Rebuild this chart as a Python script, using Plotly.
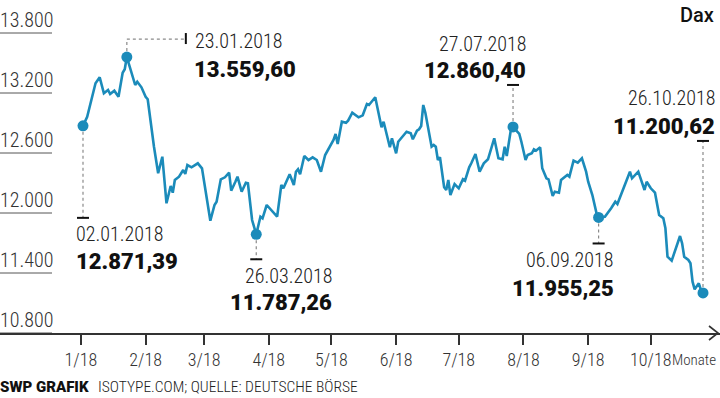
import plotly.graph_objects as go
import pandas as pd

# ---------------- data ----------------
dates = [
    "2018-01-02", "2018-01-04", "2018-01-08", "2018-01-10", "2018-01-12", "2018-01-14",
    "2018-01-15", "2018-01-17", "2018-01-19", "2018-01-21", "2018-01-22", "2018-01-23",
    "2018-01-27", "2018-01-28", "2018-01-30", "2018-02-01", "2018-02-02", "2018-02-04",
    "2018-02-05", "2018-02-07", "2018-02-09", "2018-02-11", "2018-02-13", "2018-02-14",
    "2018-02-15", "2018-02-17", "2018-02-19", "2018-02-20", "2018-02-21", "2018-02-23",
    "2018-02-25", "2018-02-26", "2018-02-28", "2018-03-04", "2018-03-06", "2018-03-07",
    "2018-03-09", "2018-03-11", "2018-03-13", "2018-03-14", "2018-03-16", "2018-03-17",
    "2018-03-19", "2018-03-21", "2018-03-22", "2018-03-24", "2018-03-26", "2018-03-28",
    "2018-03-29", "2018-03-31", "2018-04-05", "2018-04-07", "2018-04-08", "2018-04-11",
    "2018-04-13", "2018-04-14", "2018-04-15", "2018-04-16", "2018-04-18", "2018-04-20",
    "2018-04-22", "2018-04-24", "2018-04-26", "2018-04-28", "2018-05-02", "2018-05-03",
    "2018-05-04", "2018-05-06", "2018-05-08", "2018-05-09", "2018-05-11", "2018-05-14",
    "2018-05-16", "2018-05-18", "2018-05-19", "2018-05-22", "2018-05-25", "2018-05-26",
    "2018-05-29", "2018-05-30", "2018-06-01", "2018-06-02", "2018-06-06", "2018-06-08",
    "2018-06-09", "2018-06-11", "2018-06-12", "2018-06-13", "2018-06-14", "2018-06-15",
    "2018-06-18", "2018-06-19", "2018-06-20", "2018-06-21", "2018-06-22", "2018-06-24",
    "2018-06-25", "2018-06-26", "2018-06-27", "2018-06-29", "2018-07-01", "2018-07-03",
    "2018-07-04", "2018-07-06", "2018-07-07", "2018-07-09", "2018-07-11", "2018-07-13",
    "2018-07-15", "2018-07-18", "2018-07-20", "2018-07-22", "2018-07-23", "2018-07-24",
    "2018-07-26", "2018-07-27", "2018-07-30", "2018-07-31", "2018-08-02", "2018-08-03",
    "2018-08-05", "2018-08-06", "2018-08-07", "2018-08-09", "2018-08-10", "2018-08-12",
    "2018-08-13", "2018-08-15", "2018-08-16", "2018-08-18", "2018-08-19", "2018-08-22",
    "2018-08-23", "2018-08-25", "2018-08-27", "2018-08-29", "2018-08-31", "2018-09-01",
    "2018-09-03", "2018-09-05", "2018-09-06", "2018-09-09", "2018-09-12", "2018-09-14",
    "2018-09-15", "2018-09-17", "2018-09-19", "2018-09-21", "2018-09-22", "2018-09-25",
    "2018-09-28", "2018-09-29", "2018-10-01", "2018-10-03", "2018-10-05", "2018-10-07",
    "2018-10-08", "2018-10-09", "2018-10-11", "2018-10-13", "2018-10-15", "2018-10-16",
    "2018-10-17", "2018-10-19", "2018-10-20", "2018-10-21", "2018-10-22", "2018-10-24",
    "2018-10-25", "2018-10-26",
]
dax = [
    12871.39, 12963, 13297, 13357, 13197, 13230,
    13190, 13223, 13163, 13403, 13437, 13559.60,
    13280, 13313, 13257, 13163, 13137, 12797,
    12663, 12397, 12563, 12097, 12270, 12203,
    12330, 12363, 12430, 12390, 12480, 12457,
    12480, 12497, 12447, 11923, 12080, 12113,
    12337, 12357, 12403, 12223, 12313, 12363,
    12213, 12303, 12297, 11930, 11787.26, 11963,
    11947, 12080, 11963, 12280, 12247, 12387,
    12280, 12413, 12437, 12387, 12570, 12530,
    12557, 12530, 12413, 12580, 12730, 12790,
    12690, 12913, 12903, 12923, 13003, 12957,
    12977, 13090, 13080, 13157, 12857, 12913,
    12657, 12747, 12597, 12713, 12813, 12797,
    12737, 12823, 12837, 12870, 13080, 13003,
    12663, 12680, 12663, 12530, 12557, 12257,
    12230, 12330, 12180, 12290, 12247, 12337,
    12323, 12457, 12497, 12590, 12413, 12497,
    12537, 12747, 12547, 12537, 12663, 12570,
    12837, 12860.40, 12790, 12713, 12530, 12580,
    12597, 12637, 12623, 12657, 12447, 12347,
    12337, 12170, 12213, 12203, 12330, 12380,
    12363, 12523, 12503, 12547, 12413, 12313,
    12180, 11997, 11955.25, 11963, 12047, 12113,
    12090, 12197, 12297, 12413, 12347, 12413,
    12230, 12313, 12247, 12203, 11980, 11947,
    11847, 11563, 11523, 11647, 11770, 11697,
    11563, 11530, 11497, 11313, 11237, 11297,
    11230, 11200.62,
]

highlight_dates = ["2018-01-02", "2018-01-23", "2018-03-26", "2018-07-27", "2018-09-06", "2018-10-26"]
highlight_labels = ["02.01.2018", "23.01.2018", "26.03.2018", "27.07.2018", "06.09.2018", "26.10.2018"]
highlight_values_text = ["12.871,39", "13.559,60", "11.787,26", "12.860,40", "11.955,25", "11.200,62"]

month_ticks = ["2018-01-01", "2018-02-01", "2018-03-01", "2018-04-01", "2018-05-01",
               "2018-06-01", "2018-07-01", "2018-08-01", "2018-09-01", "2018-10-01"]
month_labels = ["1/18", "2/18", "3/18", "4/18", "5/18", "6/18", "7/18", "8/18", "9/18", "10/18"]

y_ticks = [10800, 11400, 12000, 12600, 13200, 13800]
y_tick_labels = ["10.800", "11.400", "12.000", "12.600", "13.200", "13.800"]

# ---------------- styling ----------------
W, H = 720, 398
M_L, M_R, M_T, M_B = 0, 0, 18, 65
LINE_COLOR = "#1b8bba"
TEXT = "#222222"
COND = "Roboto Condensed, DejaVu Sans Condensed, sans-serif"
BOLD = "Roboto, Liberation Sans, sans-serif"

plot_h = H - M_T - M_B


def ppy(px_from_top):
    """paper y for a pixel row measured from top of the figure"""
    return (H - M_B - px_from_top) / plot_h


fig = go.Figure()
fig.add_trace(go.Scatter(
    x=dates, y=dax, mode="lines",
    line=dict(color=LINE_COLOR, width=2.6, shape="linear"),
    hoverinfo="skip", showlegend=False,
))

hl_vals = [dax[dates.index(d)] for d in highlight_dates]
fig.add_trace(go.Scatter(
    x=highlight_dates, y=hl_vals, mode="markers",
    marker=dict(color=LINE_COLOR, size=11),
    hoverinfo="skip", showlegend=False,
))

shapes = []
annotations = []

leaders = [
    dict(dots=[(0, 0, 0, -92)], bar=(-6, -92, 6, -92),
         d=(-9, -108, "left"), v=(-9, -136, "left")),
    dict(dots=[(0, 0, 0, 18), (0, 18, 58, 18)], bar=(59, 13, 59, 24),
         d=(66, 16, "left"), v=(65, -12, "left")),
    dict(dots=[(0, 0, 0, -25)], bar=(-6, -25, 6, -25),
         d=(78, -42, "right"), v=(78, -68, "right")),
    dict(dots=[(0, 0, 0, 42)], bar=(-6, 42, 6, 42),
         d=(15, 83, "right"), v=(15, 56, "right")),
    dict(dots=[(0, 0, 0, -26)], bar=(-6, -26, 6, -26),
         d=(16, -43, "right"), v=(17, -71, "right")),
    dict(dots=[(0, 0, 0, 152)], bar=(-6, 152, 6, 152),
         d=(14, 195, "right"), v=(14, 166, "right")),
]

for hd, hv, lab, vtxt, ld in zip(highlight_dates, hl_vals, highlight_labels,
                                 highlight_values_text, leaders):
    for (x0, y0, x1, y1) in ld["dots"]:
        shapes.append(dict(type="line", xref="x", yref="y",
                           xsizemode="pixel", ysizemode="pixel",
                           xanchor=hd, yanchor=hv,
                           x0=x0, y0=y0, x1=x1, y1=y1,
                           line=dict(color="#8a8a8a", width=1.2, dash="dot"),
                           layer="below"))
    bx0, by0, bx1, by1 = ld["bar"]
    shapes.append(dict(type="line", xref="x", yref="y",
                       xsizemode="pixel", ysizemode="pixel",
                       xanchor=hd, yanchor=hv,
                       x0=bx0, y0=by0, x1=bx1, y1=by1,
                       line=dict(color="#111111", width=2)))
    dx, dy, anc = ld["d"]
    annotations.append(dict(x=hd, y=hv, xref="x", yref="y", text=lab,
                            showarrow=False, xanchor=anc, yanchor="middle",
                            xshift=dx, yshift=dy,
                            font=dict(family=COND, size=20, color=TEXT, weight=300)))
    vx, vy, vanc = ld["v"]
    annotations.append(dict(x=hd, y=hv, xref="x", yref="y", text=vtxt,
                            showarrow=False, xanchor=vanc, yanchor="middle",
                            xshift=vx, yshift=vy,
                            font=dict(family=BOLD, size=22, color="#111111", weight=900)))

for v, t in zip(y_ticks, y_tick_labels):
    annotations.append(dict(x=0, y=v, xref="paper", yref="y", text=t,
                            showarrow=False, xanchor="left", yanchor="bottom",
                            xshift=-2, yshift=-1,
                            font=dict(family=COND, size=20, color="#333333", weight=300)))
    shapes.append(dict(type="line", xref="paper", yref="y", x0=0, x1=52 / W,
                       y0=v, y1=v, line=dict(color="#555555", width=1)))

shapes.append(dict(type="path", xref="paper", yref="paper",
                   path=f"M {709 / W} {7 / plot_h} L {718 / W} 0 L {709 / W} {-7 / plot_h}",
                   line=dict(color="#333333", width=1.6)))

annotations += [
    dict(x=716 / W, y=ppy(15), xref="paper", yref="paper", text="Dax",
         showarrow=False, xanchor="right", yanchor="middle",
         font=dict(family=BOLD, size=20, color="#111111", weight=500)),
    dict(x=718 / W, y=ppy(360), xref="paper", yref="paper", text="Monate",
         showarrow=False, xanchor="right", yanchor="middle",
         font=dict(family=COND, size=15, color="#333333", weight=300)),
    dict(x=0, y=ppy(387), xref="paper", yref="paper", text="SWP GRAFIK",
         showarrow=False, xanchor="left", yanchor="middle", xshift=-2,
         font=dict(family=BOLD, size=15, color="#111111", weight=900)),
    dict(x=96 / W, y=ppy(387), xref="paper", yref="paper",
         text="ISOTYPE.COM; QUELLE: DEUTSCHE BÖRSE",
         showarrow=False, xanchor="left", yanchor="middle",
         font=dict(family=COND, size=15.5, color="#222222", weight=300)),
]

x_left = pd.Timestamp("2018-01-02") - pd.Timedelta(days=83 / 2.0875)
x_right = pd.Timestamp("2018-01-02") + pd.Timedelta(days=(W - 83) / 2.0875)

fig.update_layout(
    width=W, height=H,
    margin=dict(l=M_L, r=M_R, t=M_T, b=M_B, pad=0),
    paper_bgcolor="white", plot_bgcolor="white",
    showlegend=False,
    xaxis=dict(type="date", range=[x_left, x_right],
               tickmode="array", tickvals=month_ticks, ticktext=month_labels,
               ticks="outside", ticklen=10, tickwidth=1.5, tickcolor="#333333",
               showline=True, linecolor="#333333", linewidth=1.6,
               showgrid=False, zeroline=False, fixedrange=True,
               tickfont=dict(family=COND, size=18, color="#333333", weight=300)),
    yaxis=dict(range=[10800, 10800 + plot_h * 10], showticklabels=False,
               showgrid=False, zeroline=False, showline=False, ticks="",
               fixedrange=True),
    shapes=shapes,
    annotations=annotations,
)

fig.write_html("out.html", config={"displayModeBar": False},
               post_script="document.body.style.margin='0px';")
